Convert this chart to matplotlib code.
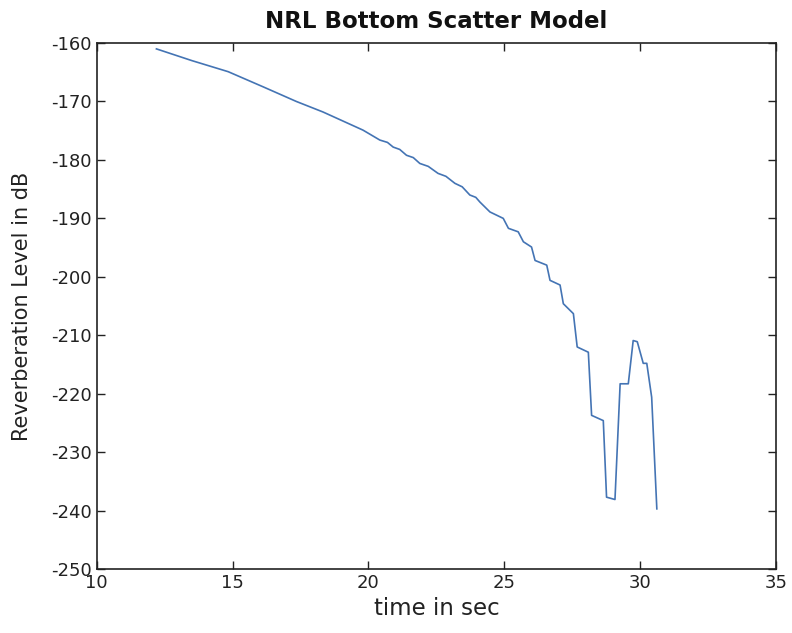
import matplotlib
matplotlib.use("Agg")
import matplotlib.pyplot as plt

plt.rcParams['axes.unicode_minus'] = False

# reverberation level vs time
time_s = [12.2, 13.5, 14.84, 16.13, 17.35, 18.33, 19.8, 20.42,
          20.7, 20.91, 21.15, 21.4, 21.65, 21.89, 22.2, 22.56, 22.85,
          23.18, 23.45, 23.73, 23.95, 24.1, 24.47, 24.96, 25.15,
          25.51, 25.7, 26.0, 26.13, 26.56, 26.68, 27.05, 27.17,
          27.54, 27.68, 28.09, 28.21, 28.64, 28.76, 29.07, 29.26,
          29.56, 29.74, 29.89, 30.11, 30.24, 30.42, 30.61]
level_db = [-161.0, -163.0, -164.9, -167.5, -170.0, -171.8, -174.9, -176.6,
            -177.0, -177.8, -178.2, -179.2, -179.6, -180.6, -181.1, -182.3, -182.8,
            -184.0, -184.6, -186.0, -186.4, -187.2, -188.9, -190.0, -191.7,
            -192.3, -194.0, -194.9, -197.2, -198.0, -200.6, -201.4, -204.6,
            -206.3, -212.0, -212.9, -223.7, -224.6, -237.7, -238.1, -218.3,
            -218.3, -210.9, -211.1, -214.8, -214.8, -220.6, -239.7]

x_ticks = [10, 15, 20, 25, 30, 35]
y_ticks = [-160, -170, -180, -190, -200, -210, -220, -230, -240, -250]

fig = plt.figure(figsize=(7.92, 6.33), dpi=100)
ax = fig.add_axes([0.122, 0.101, 0.858, 0.831])

ax.plot(time_s, level_db, color='#4474b4', linewidth=1.2)

ax.set_xlim(10, 35)
ax.set_ylim(-250, -160)
ax.set_xticks(x_ticks)
ax.set_yticks(y_ticks)
ax.tick_params(direction='in', top=True, right=True, length=6, width=1,
               labelsize=13, colors='#222222')
for s in ax.spines.values():
    s.set_linewidth(1.2)
    s.set_color('#222222')

ax.set_xlabel('time in sec', fontsize=16.5, color='#222222')
ax.set_ylabel('Reverberation Level in dB', fontsize=15, color='#222222', labelpad=14)
ax.set_title('NRL Bottom Scatter Model', fontsize=16.5, fontweight='bold',
             color='#111111', pad=11)

plt.savefig('out.png', dpi=100)
